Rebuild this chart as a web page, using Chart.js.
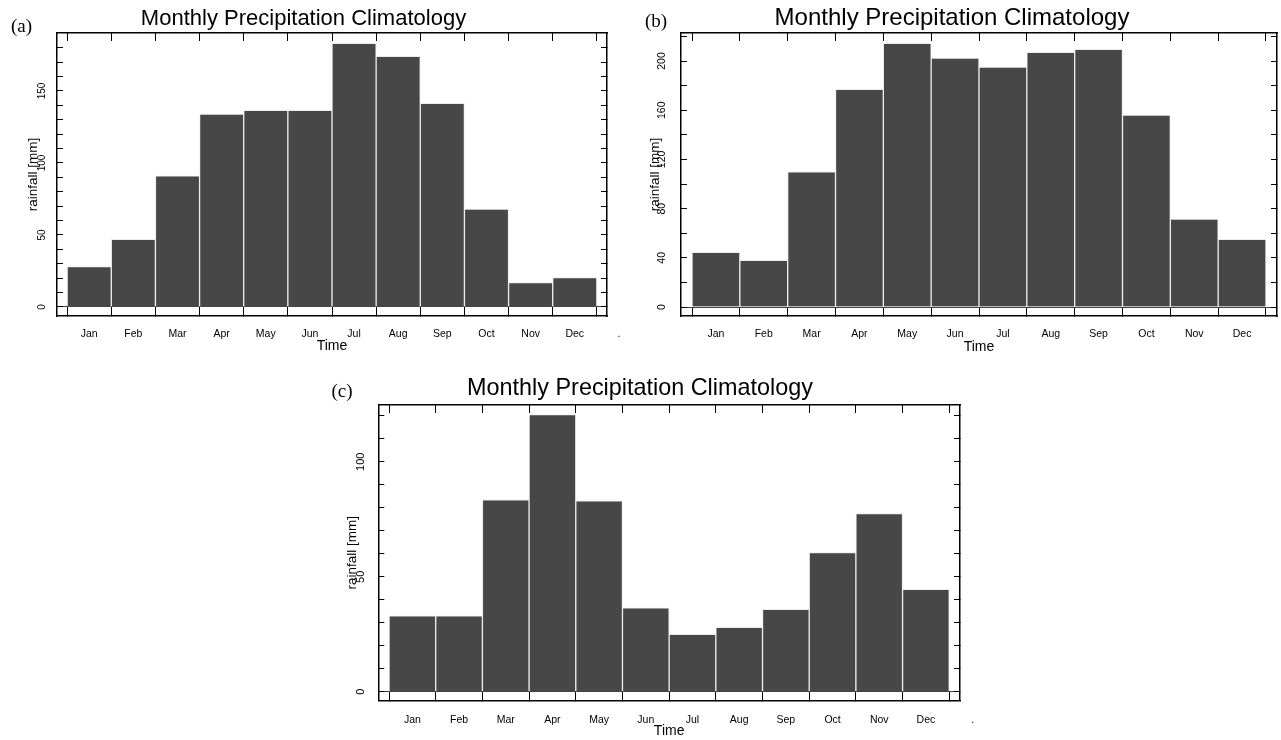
<!DOCTYPE html>
<html lang="en">
<head>
<meta charset="UTF-8">
<title>Monthly Precipitation Climatology</title>
<script src="https://cdn.jsdelivr.net/npm/chart.js"></script>
<style>
  body {
    margin: 0;
    background: #fff;
    width: 1281px;
    height: 740px;
    position: relative;
    overflow: hidden;
  }
  .painel { position: absolute; }
  .letra {
    position: absolute;
    font-family: "Liberation Serif", "Times New Roman", serif;
    font-size: 19px;
    line-height: 19px;
    color: #000;
  }
</style>
</head>
<body>
  <canvas id="chartA" class="painel" width="620" height="362" style="left:0; top:0"></canvas>
  <canvas id="chartB" class="painel" width="661" height="362" style="left:620px; top:0"></canvas>
  <canvas id="chartC" class="painel" width="660" height="370" style="left:320px; top:370px"></canvas>
  <span class="letra" style="left:11px; top:15.7px">(a)</span>
  <span class="letra" style="left:645px; top:10.7px">(b)</span>
  <span class="letra" style="left:331.5px; top:380.7px">(c)</span>

<script>
  const months = ['Jan', 'Feb', 'Mar', 'Apr', 'May', 'Jun', 'Jul', 'Aug', 'Sep', 'Oct', 'Nov', 'Dec'];
  const xLabelsA = [...months, '.'];
  const xLabelsB = [...months];
  const xLabelsC = [...months, '.'];

  // rainfall [mm]
  const rainA = [28, 47, 91, 134, 136.5, 136.5, 183, 174, 141.5, 68, 17, 20.5];
  const rainB = [44.5, 38, 110, 177, 214.5, 202.5, 195, 207, 209.5, 156, 71.5, 55];
  const rainC = [33, 33, 83.5, 120.5, 83, 36.5, 25, 28, 35.8, 60.5, 77.5, 44.5];

  // minor tick marks and the ones that carry a number
  const yTicksA = [0, 10, 20, 30, 40, 50, 60, 70, 80, 90, 100, 110, 120, 130, 140, 150, 160, 170, 180];
  const yLabelsA = [0, 50, 100, 150];
  const yTicksB = [0, 20, 40, 60, 80, 100, 120, 140, 160, 180, 200, 220];
  const yLabelsB = [0, 40, 80, 120, 160, 200];
  const yTicksC = [0, 10, 20, 30, 40, 50, 60, 70, 80, 90, 100, 110, 120];
  const yLabelsC = [0, 50, 100];

  Chart.defaults.font.family = "'Liberation Sans', Arial, sans-serif";
  Chart.defaults.color = '#000';

  function makePanel(canvasId, values, xLabels, yTicks, yLabelled, s) {
    const xTicks = xLabels.map((_, i) => i + 0.5);
    const setX = scale => { scale.ticks = xTicks.map(v => ({ value: v })); };
    const setY = scale => { scale.ticks = yTicks.map(v => ({ value: v })); };
    const frame = { color: '#000', width: 1.5 };
    const noPad = sc => {
      sc.paddingLeft = 0; sc.paddingRight = 0;
      sc.paddingTop = 0; sc.paddingBottom = 0;
    };

    new Chart(document.getElementById(canvasId), {
      type: 'bar',
      data: {
        datasets: [{
          data: values.map((v, i) => ({ x: i + 0.5, y: v })),
          backgroundColor: '#474747',
          borderColor: '#ececec',
          borderWidth: 1,
          barPercentage: 1,
          categoryPercentage: 1
        }]
      },
      options: {
        responsive: false,
        animation: false,
        layout: { padding: { left: s.padL, right: s.padR, top: 0, bottom: 0 } },
        plugins: {
          legend: { display: false },
          tooltip: { enabled: false },
          title: {
            display: true,
            text: 'Monthly Precipitation Climatology',
            color: '#000',
            font: { size: s.titleSize, weight: 'normal' },
            padding: { top: s.titleTop, bottom: s.titleBottom }
          }
        },
        scales: {
          x: {
            type: 'linear',
            position: 'bottom',
            min: -0.23,
            max: 12.23,
            offset: false,
            afterBuildTicks: setX,
            afterFit: sc => { sc.height = s.xAxisH; noPad(sc); },
            grid: { offset: true, drawOnChartArea: false, tickLength: -9, color: '#000', tickWidth: 1 },
            border: frame,
            ticks: {
              autoSkip: false,
              maxRotation: 0,
              padding: s.xLabelPad,
              font: { size: 10.5 },
              callback: (v, i) => xLabels[i]
            },
            title: {
              display: true,
              text: 'Time',
              font: { size: 14 },
              padding: { top: 0, bottom: s.timePad }
            }
          },
          x2: {
            type: 'linear',
            position: 'top',
            min: -0.23,
            max: 12.23,
            offset: false,
            afterBuildTicks: setX,
            afterFit: sc => { sc.height = 0; noPad(sc); },
            grid: { offset: true, drawOnChartArea: false, tickLength: -8, color: '#000', tickWidth: 1 },
            border: frame,
            ticks: { display: false }
          },
          y: {
            position: 'left',
            min: s.yMin,
            max: s.yMax,
            afterBuildTicks: setY,
            afterFit: sc => { sc.width = s.yAxisW; noPad(sc); },
            grid: {
              drawOnChartArea: true,
              color: c => (c.tick && c.tick.value === 0) ? '#444' : 'rgba(0,0,0,0)',
              tickColor: '#000',
              tickLength: -6
            },
            border: frame,
            ticks: {
              autoSkip: false,
              minRotation: 90,
              maxRotation: 90,
              crossAlign: 'center',
              padding: s.yLabelPad,
              font: { size: s.yTickSize },
              callback: v => yLabelled.includes(v) ? String(v) : ''
            },
            title: {
              display: true,
              text: 'rainfall [mm]',
              font: { size: 13.5 },
              padding: { top: s.yTitlePad, bottom: 0 }
            }
          },
          y2: {
            position: 'right',
            min: s.yMin,
            max: s.yMax,
            afterBuildTicks: setY,
            afterFit: sc => { sc.width = s.y2W; noPad(sc); },
            grid: { drawOnChartArea: false, tickLength: -6, color: '#000' },
            border: frame,
            ticks: { display: false, autoSkip: false }
          }
        }
      }
    });
  }

  makePanel('chartA', rainA, xLabelsA, yTicksA, yLabelsA, {
    padL: 0, padR: 13, yAxisW: 57, y2W: 0, xAxisH: 46,
    titleSize: 22, titleTop: 5.3, titleBottom: 1.3,
    yMin: -6.25, yMax: 190.25,
    xLabelPad: 20.4, timePad: 7.1,
    yLabelPad: 12.45, yTickSize: 10, yTitlePad: 24.9
  });

  makePanel('chartB', rainB, xLabelsB, yTicksB, yLabelsB, {
    padL: 3, padR: 0, yAxisW: 58, y2W: 4, xAxisH: 46,
    titleSize: 24, titleTop: 3.9, titleBottom: 0.3,
    yMin: -7.3, yMax: 222.8,
    xLabelPad: 20.4, timePad: 6.1,
    yLabelPad: 15.7, yTickSize: 10.5, yTitlePad: 23.9
  });

  makePanel('chartC', rainC, xLabelsC, yTicksC, yLabelsC, {
    padL: 0, padR: 20, yAxisW: 58.3, y2W: 0, xAxisH: 39.3,
    titleSize: 23.4, titleTop: 4.46, titleBottom: 2.46,
    yMin: -3.9, yMax: 124.7,
    xLabelPad: 22.3, timePad: 0.6,
    yLabelPad: 13.9, yTickSize: 11, yTitlePad: 24.1
  });
</script>
</body>
</html>
